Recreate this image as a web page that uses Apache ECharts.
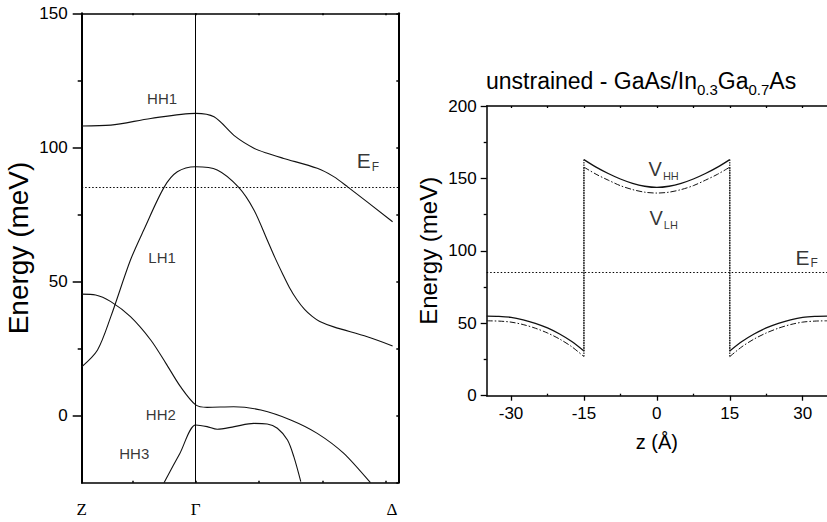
<!DOCTYPE html>
<html>
<head>
<meta charset="utf-8">
<script src="https://cdn.jsdelivr.net/npm/echarts@6/dist/echarts.min.js"></script>
<style>
  html, body { margin: 0; padding: 0; background: #fff; }
  #chart { width: 827px; height: 522px; }
</style>
</head>
<body>
<div id="chart"></div>
<script>
// ---------- left panel: in-plane valence subbands, Z – Γ – Δ ----------
const kTicks = [-1, 0, 1, 2, 3];
const kPointPos = [-1.8, 0, 3.1];
const kPointNames = ['Z', 'Γ', 'Δ'];
const energyTicksLeft = [0, 50, 100, 150];
const energyMinorLeft = [25, 75, 125];
const energyAllLeft = [-25, 0, 25, 50, 75, 100, 125, 150];
const fermiEnergy = 85;

const hh1K = [-1.8, -1.34, -0.71, 0, 0.29, 0.63, 0.92, 1.13, 1.39, 1.92, 2.18, 2.40, 3.11];
const hh1E = [108.0, 108.3, 110.8, 112.7, 111.4, 104.0, 99.7, 97.8, 95.9, 92.2, 89.1, 85.3, 72.3];

const lh1K = [-1.8, -1.55, -1.34, -1.03, -0.82, -0.50, -0.29, 0, 0.34, 0.68, 0.92, 1.13, 1.25, 1.37, 1.48, 1.60, 1.72, 1.84, 1.96, 2.18, 2.71, 3.11];
const lh1E = [18.2, 24.5, 36.9, 58.0, 69.2, 85.1, 90.9, 92.8, 91.6, 85.1, 76.7, 65.5, 59.0, 53.0, 47.8, 43.2, 39.6, 37.0, 35.1, 33.1, 29.4, 26.0];

const hh2K = [-1.8, -1.58, -1.34, -1.03, -0.71, -0.47, -0.24, 0, 0.18, 0.60, 1.03, 1.50, 1.92, 2.34, 2.76];
const hh2E = [45.3, 45.0, 42.5, 36.9, 28.2, 19.5, 10.8, 4.0, 3.1, 3.3, 2.1, -1.6, -6.6, -14.1, -25.0];

const hh3K = [-0.50, -0.25, 0, 0.18, 0.34, 0.61, 0.92, 1.13, 1.29, 1.45, 1.55, 1.66];
const hh3E = [-25.0, -14.1, -3.5, -4.1, -5.1, -4.1, -2.9, -3.1, -4.7, -9.1, -15.3, -24.6];

// ---------- right panel: valence band profile along z ----------
const zTicks = [-30, -15, 0, 15, 30];
const zMinorTicks = [-22.5, -7.5, 7.5, 22.5];
const zAllTicks = [-30, -22.5, -15, -7.5, 0, 7.5, 15, 22.5, 30];

const zBarrierL = [-35, -32.5, -30, -27.5, -25, -22.5, -20, -17.5, -15];
const vhhBarrierL = [55.0, 54.8, 54.1, 52.4, 50.0, 46.8, 42.6, 37.4, 30.9];
const vlhBarrierL = [51.7, 51.5, 50.8, 49.1, 46.6, 43.3, 39.1, 33.8, 27.0];

const zWell = [-15, -12.5, -10, -7.5, -5, -2.5, 0, 2.5, 5, 7.5, 10, 12.5, 15];
const vhhWell = [163.0, 157.8, 153.4, 149.6, 146.6, 144.6, 143.8, 144.6, 146.6, 149.6, 153.4, 157.8, 163.0];
const vlhWell = [157.8, 152.9, 148.8, 145.0, 142.3, 140.5, 139.9, 140.5, 142.3, 145.0, 148.8, 152.9, 157.8];

const zBarrierR = [15, 17.5, 20, 22.5, 25, 27.5, 30, 32.5, 35];
const vhhBarrierR = [30.9, 37.4, 42.6, 46.8, 50.0, 52.4, 54.1, 54.8, 55.0];
const vlhBarrierR = [27.0, 33.8, 39.1, 43.3, 46.6, 49.1, 50.8, 51.5, 51.7];

// ---------- text annotations (data coordinates) ----------
const leftLabels = [
  { pos: [-0.53, 118.2], text: '{t|HH1}' },
  { pos: [-0.53, 58.8], text: '{t|LH1}' },
  { pos: [-0.55, 0.6], text: '{t|HH2}' },
  { pos: [-0.97, -14.1], text: '{t|HH3}' },
  { pos: [2.72, 95.0], text: '{e|E}{es|F}' }
];
const rightLabels = [
  { pos: [1.4, 156.5], text: '{v|V}{vs|HH}' },
  { pos: [1.4, 122.5], text: '{v|V}{vs|LH}' },
  { pos: [30.8, 95.5], text: '{e|E}{es|F}' }
];

const SANS = '"Liberation Sans", Arial, Helvetica, sans-serif';
const SERIF = '"Liberation Serif", "Times New Roman", serif';
const INK = '#000';

const richStyles = {
  t: { fontFamily: SANS, fontSize: 15, color: INK },
  e: { fontFamily: SANS, fontSize: 21, lineHeight: 21, color: INK },
  es: { fontFamily: SANS, fontSize: 12, padding: [12, 0, 0, 1], color: INK },
  v: { fontFamily: SANS, fontSize: 20, lineHeight: 20, color: INK },
  vs: { fontFamily: SANS, fontSize: 11, padding: [14, 0, 0, 1], color: INK }
};

const pairs = (xs, ys) => xs.map((x, i) => [x, ys[i]]);

const axisLineStyle = { color: INK, width: 1.5 };

function curve(data, xIdx, yIdx, extra) {
  return Object.assign({
    type: 'line', xAxisIndex: xIdx, yAxisIndex: yIdx, data: data,
    showSymbol: false, symbol: 'none', smooth: 0.3, silent: true,
    lineStyle: { color: '#111', width: 1.1 }
  }, extra || {});
}

function labelSeries(list, xIdx, yIdx) {
  return {
    type: 'scatter', xAxisIndex: xIdx, yAxisIndex: yIdx, symbolSize: 0, silent: true,
    data: list.map(l => ({ value: l.pos, labelText: l.text })),
    label: {
      show: true, position: 'inside',
      formatter: p => p.data.labelText,
      rich: richStyles
    }
  };
}

const hhStyle = { color: '#111', width: 1.3 };
const lhStyle = { color: '#111', width: 1.0, type: [6, 2, 1.5, 2] };
const stepStyle = { color: '#222', width: 1.2, type: [1.5, 1] };
const fermiStyle = { color: INK, width: 1, type: [1.5, 2] };

const series = [
  // left panel bands
  curve(pairs(hh1K, hh1E), 0, 0, {
    markLine: {
      silent: true, symbol: 'none', label: { show: false },
      data: [
        { xAxis: kPointPos[1], lineStyle: { color: INK, width: 1, type: 'solid' } },
        { yAxis: fermiEnergy, lineStyle: fermiStyle }
      ]
    }
  }),
  curve(pairs(lh1K, lh1E), 0, 0),
  curve(pairs(hh2K, hh2E), 0, 0),
  curve(pairs(hh3K, hh3E), 0, 0),
  labelSeries(leftLabels, 0, 0),

  // right panel: heavy-hole potential (solid)
  curve(pairs(zBarrierL, vhhBarrierL), 2, 3, { lineStyle: hhStyle,
    markLine: {
      silent: true, symbol: 'none', label: { show: false },
      data: [{ yAxis: fermiEnergy, lineStyle: fermiStyle }]
    }
  }),
  curve(pairs(zWell, vhhWell), 2, 3, { lineStyle: hhStyle }),
  curve(pairs(zBarrierR, vhhBarrierR), 2, 3, { lineStyle: hhStyle }),
  curve([[zWell[0], vhhBarrierL[vhhBarrierL.length - 1]], [zWell[0], vhhWell[0]]], 2, 3,
        { smooth: false, lineStyle: stepStyle }),
  curve([[zWell[zWell.length - 1], vhhBarrierR[0]], [zWell[zWell.length - 1], vhhWell[vhhWell.length - 1]]], 2, 3,
        { smooth: false, lineStyle: stepStyle }),

  // right panel: light-hole potential (dash-dot)
  curve(pairs(zBarrierL, vlhBarrierL), 2, 3, { lineStyle: lhStyle }),
  curve(pairs(zWell, vlhWell), 2, 3, { lineStyle: lhStyle }),
  curve(pairs(zBarrierR, vlhBarrierR), 2, 3, { lineStyle: lhStyle }),
  curve([[zWell[0], vlhBarrierL[vlhBarrierL.length - 1]], [zWell[0], vlhWell[0]]], 2, 3,
        { smooth: false, lineStyle: stepStyle }),
  curve([[zWell[zWell.length - 1], vlhBarrierR[0]], [zWell[zWell.length - 1], vlhWell[vlhWell.length - 1]]], 2, 3,
        { smooth: false, lineStyle: stepStyle }),
  labelSeries(rightLabels, 2, 3)
];

const option = {
  animation: false,
  backgroundColor: '#fff',
  textStyle: { fontFamily: SANS, color: INK },
  title: {
    text: '{n|unstrained - GaAs/In}{s|0.3}{n|Ga}{s|0.7}{n|As}',
    left: 481, top: 59,
    textStyle: {
      fontWeight: 'normal',
      rich: {
        n: { fontFamily: SANS, fontSize: 23, lineHeight: 23, fontWeight: 'normal', color: INK },
        s: { fontFamily: SANS, fontSize: 15, padding: [18, 0, 0, 0], fontWeight: 'normal', color: INK }
      }
    }
  },
  grid: [
    { left: 81.7, top: 13.3, right: 428.7, bottom: 39.3, containLabel: false },
    { left: 486.7, top: 106, right: -8.3, bottom: 126.3, containLabel: false }
  ],
  xAxis: [
    { // 0: left panel bottom, symmetry points
      gridIndex: 0, type: 'value', min: -1.8, max: 3.2, position: 'bottom',
      axisLine: { onZero: false, lineStyle: axisLineStyle },
      axisTick: { inside: true, length: 2, customValues: kTicks, lineStyle: { color: INK, width: 1.5 } },
      axisLabel: {
        customValues: kPointPos, margin: 18, color: INK, fontFamily: SERIF, fontSize: 17,
        formatter: v => kPointNames[kPointPos.indexOf(v)] || ''
      },
      splitLine: { show: false }
    },
    { // 1: left panel top
      gridIndex: 0, type: 'value', min: -1.8, max: 3.2, position: 'top',
      axisLine: { onZero: false, lineStyle: axisLineStyle },
      axisTick: { inside: true, length: 2, customValues: kTicks, lineStyle: { color: INK, width: 1.5 } },
      axisLabel: { show: false }, splitLine: { show: false }
    },
    { // 2: right panel bottom
      gridIndex: 1, type: 'value', min: -35, max: 35, position: 'bottom',
      name: 'z (Å)', nameLocation: 'middle', nameGap: 36,
      nameTextStyle: { fontFamily: SANS, fontSize: 20, color: INK },
      axisLine: { onZero: false, lineStyle: axisLineStyle },
      axisTick: { length: 5, customValues: zTicks, lineStyle: { color: INK, width: 1.3 } },
      axisLabel: { customValues: zTicks, margin: 9, color: INK, fontFamily: SANS, fontSize: 17 },
      splitLine: { show: false }
    },
    { // 3: right panel bottom minor ticks
      gridIndex: 1, type: 'value', min: -35, max: 35, position: 'bottom',
      axisLine: { show: false, onZero: false },
      axisTick: { inside: true, length: 2, customValues: zMinorTicks, lineStyle: { color: INK, width: 1.3 } },
      axisLabel: { show: false }, splitLine: { show: false }
    },
    { // 4: right panel top
      gridIndex: 1, type: 'value', min: -35, max: 35, position: 'top',
      axisLine: { onZero: false, lineStyle: axisLineStyle },
      axisTick: { inside: true, length: 2, customValues: zAllTicks, lineStyle: { color: INK, width: 1.3 } },
      axisLabel: { show: false }, splitLine: { show: false }
    }
  ],
  yAxis: [
    { // 0: left panel energy
      gridIndex: 0, type: 'value', min: -25, max: 150, position: 'left',
      name: 'Energy (meV)', nameLocation: 'middle', nameGap: 49,
      nameTextStyle: { fontFamily: SANS, fontSize: 28, color: INK },
      axisLine: { onZero: false, lineStyle: { color: INK, width: 2 } },
      axisTick: { length: 9, customValues: energyTicksLeft, lineStyle: { color: INK, width: 1.5 } },
      axisLabel: { customValues: energyTicksLeft, margin: 14, color: INK, fontFamily: SANS, fontSize: 17 },
      splitLine: { show: false }
    },
    { // 1: left panel minor ticks
      gridIndex: 0, type: 'value', min: -25, max: 150, position: 'left',
      axisLine: { show: false, onZero: false },
      axisTick: { length: 4, customValues: energyMinorLeft, lineStyle: { color: INK, width: 1.5 } },
      axisLabel: { show: false }, splitLine: { show: false }
    },
    { // 2: left panel right edge
      gridIndex: 0, type: 'value', min: -25, max: 150, position: 'right',
      axisLine: { onZero: false, lineStyle: { color: INK, width: 2 } },
      axisTick: { inside: true, length: 2, customValues: energyAllLeft, lineStyle: { color: INK, width: 1.5 } },
      axisLabel: { show: false }, splitLine: { show: false }
    },
    { // 3: right panel energy
      gridIndex: 1, type: 'value', min: 0, max: 200, interval: 50, position: 'left',
      name: 'Energy (meV)', nameLocation: 'middle', nameGap: 46,
      nameTextStyle: { fontFamily: SANS, fontSize: 24, color: INK },
      axisLine: { onZero: false, lineStyle: axisLineStyle },
      axisTick: { length: 6, lineStyle: { color: INK, width: 1.3 } },
      minorTick: { show: true, splitNumber: 2, length: 3, lineStyle: { color: INK, width: 1.3 } },
      axisLabel: { margin: 10, color: INK, fontFamily: SANS, fontSize: 17 },
      splitLine: { show: false }
    }
  ],
  series: series
};

const chart = echarts.init(document.getElementById('chart'), null, { renderer: 'svg' });
chart.setOption(option);
</script>
</body>
</html>
